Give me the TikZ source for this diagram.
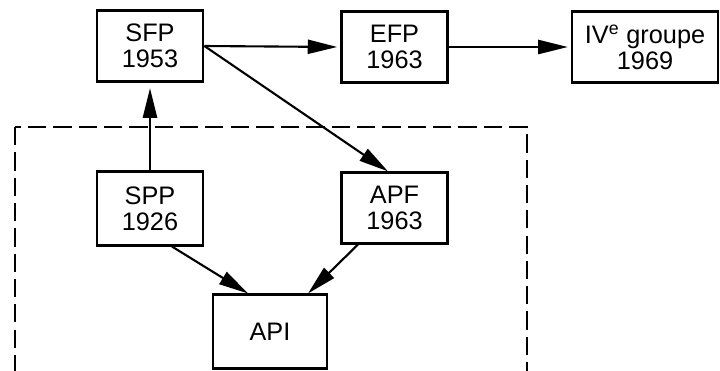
\documentclass[tikz,border=0pt]{standalone}
\usepackage{fontspec}
\setmainfont{Liberation Sans}
\usetikzlibrary{arrows.meta,positioning}

\begin{document}
\begin{tikzpicture}[x=0.025cm, y=-0.025cm,
  every node/.style={font=\fontsize{18}{18.5}\selectfont},
  box/.style={draw, line width=2pt, rectangle, minimum width=2.65cm,
              minimum height=1.76cm, align=center, inner sep=2pt},
  ar/.style={-{Triangle[length=21pt, width=10pt]}, line width=1.5pt},
  grp/.style={draw, line width=2pt, dash pattern=on 13pt off 5pt}]

\useasboundingbox (0,0) rectangle (720,370);

%% --- top row ---
\node[box] (SFP) at (150, 46)  {SFP \\ 1953};
\node[box] (EFP) at (394.5, 47) {EFP \\ 1963};
\node[box, minimum width=3.65cm] (IVG) at (645, 47) {IV\textsuperscript{e} groupe \\ 1969};

%% --- inside the dashed frame ---
\node[box, minimum height=1.83cm] (SPP) at (150, 208.5) {SPP \\ 1926};
\node[box] (APF) at (394.5, 208) {APF \\ 1963};
\node[box, minimum width=2.85cm, minimum height=1.83cm] (API) at (270, 331.5) {API};

%% --- arrows ---
\draw[ar, shorten >=4pt] (SPP.north) -- (SFP.south);
\draw[ar, shorten >=2pt] (SFP.east) -- (EFP.west);
\draw[ar, shorten >=2pt] (EFP.east) -- (IVG.west);
\draw[ar] (SFP.east) -- (APF.100);
\draw[ar] (SPP.-60) -- (API.120);
\draw[ar] (APF.-135) -- (API.45);

%% --- dashed frame ---
\draw[grp] (15, 127) rectangle (527, 390);
\end{tikzpicture}
\end{document}
